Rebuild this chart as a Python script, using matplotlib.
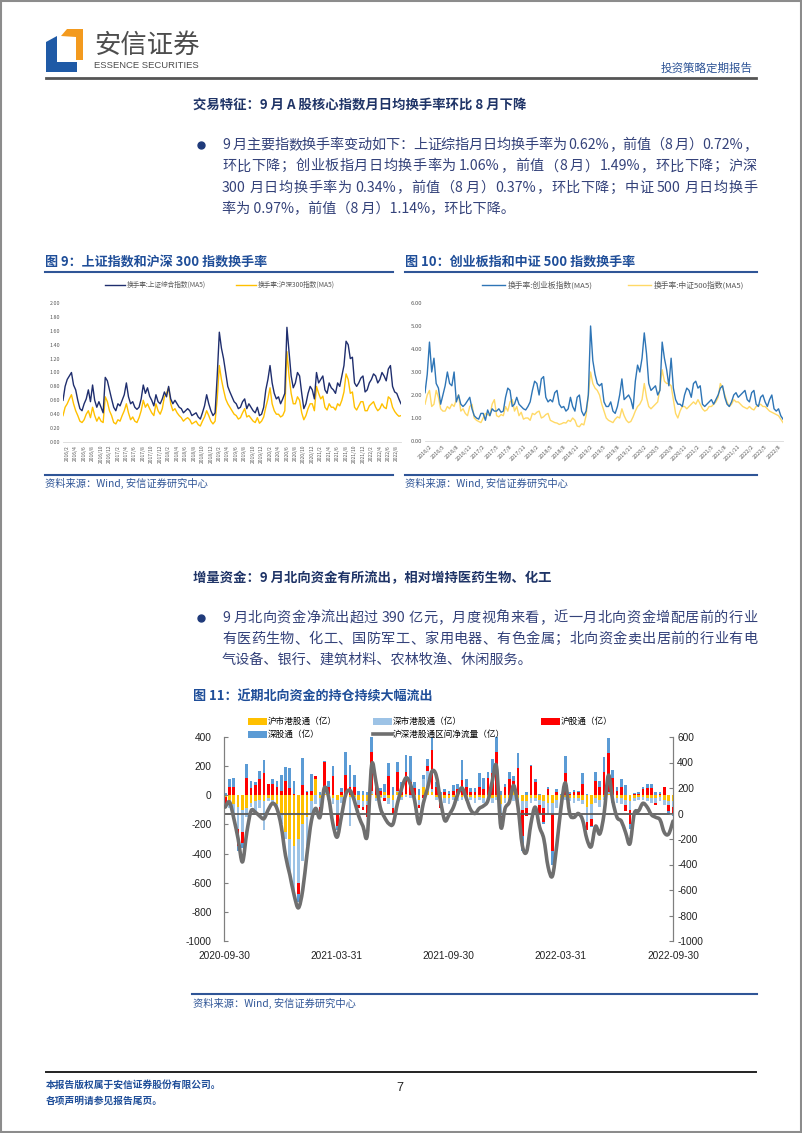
import matplotlib
matplotlib.use('Agg')
import matplotlib.pyplot as plt
import numpy as np
import pandas as pd
from matplotlib.patches import Rectangle, Polygon, PathPatch
from matplotlib.path import Path
from matplotlib.lines import Line2D

plt.rcParams['font.family'] = ['Noto Sans CJK SC', 'DejaVu Sans']
plt.rcParams['axes.unicode_minus'] = False

# ---------------- data ----------------
# half-monthly turnover readings (%), 2016/1 .. 2022/9
sh_comp = [0.60, 0.80, 0.90, 0.95, 1.00, 0.82, 0.75, 0.60, 0.48, 0.45,
           0.55, 0.62, 0.75, 0.58, 0.82, 0.60, 0.50, 0.58, 0.50, 0.42,
           0.93, 0.88, 0.75, 0.62, 0.50, 0.45, 0.55, 0.52, 0.60, 0.68,
           0.85, 0.65, 0.55, 0.58, 0.50, 0.47, 0.50, 0.62, 0.82, 0.70,
           0.78, 0.66, 0.60, 0.52, 0.68, 0.58, 0.55, 0.62, 0.72, 0.65,
           0.80, 0.62, 0.55, 0.60, 0.55, 0.50, 0.48, 0.42, 0.45, 0.48,
           0.45, 0.38, 0.40, 0.42, 0.36, 0.33, 0.42, 0.52, 0.68, 0.55,
           0.45, 0.38, 0.42, 0.95, 1.58, 1.35, 1.20, 1.00, 0.80, 0.72,
           0.65, 0.58, 0.55, 0.48, 0.50, 0.58, 0.62, 0.48, 0.55, 0.50,
           0.45, 0.42, 0.50, 0.38, 0.40, 0.50, 0.75, 0.90, 1.10, 0.85,
           0.70, 0.62, 0.65, 0.55, 0.62, 0.70, 1.65, 1.30, 0.95, 0.78,
           0.85, 1.00, 0.95, 0.70, 0.48, 0.55, 0.70, 0.80, 0.75, 0.62,
           1.00, 0.85, 0.90, 0.95, 0.75, 0.70, 0.85, 0.78, 0.75, 0.70,
           0.85, 0.80, 0.95, 1.10, 1.45, 1.40, 1.20, 1.22, 0.85, 0.80,
           0.85, 0.92, 0.95, 0.72, 0.75, 0.85, 0.90, 0.98, 0.95, 0.85,
           0.90, 1.00, 0.95, 0.88, 1.05, 1.10, 0.80, 0.72, 0.70, 0.62,
           0.55]
hs300 = [0.38, 0.50, 0.55, 0.62, 0.68, 0.55, 0.45, 0.38, 0.30, 0.28,
         0.32, 0.40, 0.45, 0.35, 0.50, 0.38, 0.30, 0.36, 0.30, 0.28,
         0.65, 0.58, 0.45, 0.38, 0.28, 0.26, 0.32, 0.30, 0.38, 0.45,
         0.55, 0.42, 0.32, 0.36, 0.30, 0.28, 0.35, 0.45, 0.60, 0.50,
         0.55, 0.48, 0.42, 0.38, 0.55, 0.45, 0.40, 0.48, 0.65, 0.70,
         0.78, 0.55, 0.45, 0.48, 0.42, 0.38, 0.35, 0.30, 0.33, 0.35,
         0.32, 0.26, 0.28, 0.30, 0.25, 0.23, 0.30, 0.36, 0.45, 0.38,
         0.30, 0.26, 0.30, 0.62, 1.10, 0.90, 0.75, 0.62, 0.55, 0.50,
         0.45, 0.40, 0.38, 0.33, 0.35, 0.42, 0.48, 0.36, 0.38, 0.34,
         0.30, 0.28, 0.35, 0.27, 0.30, 0.36, 0.50, 0.62, 0.78, 0.55,
         0.45, 0.40, 0.40, 0.36, 0.38, 0.45, 1.30, 0.95, 0.70, 0.55,
         0.55, 0.65, 0.60, 0.42, 0.32, 0.38, 0.48, 0.55, 0.55, 0.45,
         0.80, 0.70, 0.62, 0.66, 0.50, 0.46, 0.55, 0.50, 0.50, 0.46,
         0.55, 0.52, 0.60, 0.72, 0.98, 0.90, 0.70, 0.72, 0.50, 0.46,
         0.52, 0.58, 0.58, 0.45, 0.45, 0.52, 0.55, 0.58, 0.50, 0.45,
         0.48, 0.55, 0.50, 0.48, 0.65, 0.62, 0.50, 0.44, 0.40, 0.37,
         0.38]
chinext = [2.10, 2.90, 4.30, 3.00, 3.60, 2.50, 2.30, 1.60, 2.00, 2.40,
           3.00, 2.50, 2.40, 3.00, 1.70, 2.00, 1.60, 1.50, 1.60, 1.75,
           1.90, 1.40, 1.10, 1.00, 0.95, 1.20, 1.20, 0.90, 1.35, 1.10,
           1.40, 1.30, 1.30, 1.40, 1.25, 1.30, 1.90, 2.30, 2.20, 1.50,
           1.60, 1.90, 1.60, 1.50, 1.40, 1.35, 1.50, 1.70, 2.20, 2.60,
           2.50, 2.00, 2.70, 2.80, 1.90, 1.70, 1.80, 1.70, 2.10, 2.20,
           1.60, 1.45, 1.50, 1.30, 1.40, 1.90, 1.50, 1.30, 1.90, 2.00,
           1.30, 1.10, 1.30, 2.00, 5.00, 3.50, 2.90, 2.50, 2.40, 2.50,
           1.70, 1.50, 1.50, 1.70, 1.30, 1.20, 1.50, 2.00, 2.70, 1.80,
           1.90, 2.00, 1.80, 1.40, 2.60, 3.30, 3.00, 3.60, 4.70, 3.80,
           2.50, 2.20, 2.30, 2.40, 2.00, 2.20, 4.30, 3.60, 3.10, 2.40,
           3.60, 2.30, 1.80, 1.60, 1.60, 1.50, 2.00, 2.30, 2.20, 1.90,
           2.50, 2.60, 2.30, 2.40, 1.60, 1.50, 1.60, 1.70, 1.80, 1.60,
           1.80, 2.00, 2.30, 2.40, 1.90, 1.60, 1.50, 1.70, 2.00, 2.10,
           1.90, 2.00, 2.10, 2.20, 1.80, 1.70, 2.10, 2.20, 1.60, 1.50,
           1.90, 2.00, 1.70, 1.50, 1.80, 2.00, 1.40, 1.30, 1.40, 1.10,
           0.95]
csi500 = [1.60, 2.00, 2.20, 1.50, 1.60, 2.20, 1.90, 1.40, 1.30, 1.30,
          1.50, 1.40, 1.60, 1.50, 1.80, 2.00, 1.30, 1.40, 1.20, 1.10,
          1.50, 1.60, 1.00, 0.90, 0.85, 0.80, 1.00, 1.20, 1.15, 1.10,
          1.60, 1.80, 1.10, 1.05, 1.15, 1.10, 1.50, 1.30, 1.70, 1.80,
          1.30, 1.50, 1.10, 1.25, 0.95, 1.00, 1.00, 0.90, 1.20, 1.15,
          1.25, 1.30, 1.00, 1.05, 1.15, 1.20, 0.90, 0.85, 0.80, 0.78,
          0.72, 0.75, 0.80, 0.78, 0.90, 0.85, 1.00, 0.90, 0.65, 0.62,
          0.75, 0.70, 1.10, 2.00, 3.00, 2.50, 2.30, 2.20, 2.00, 1.60,
          1.30, 1.00, 0.90, 0.85, 0.80, 0.95, 1.05, 1.00, 1.40, 1.10,
          0.90, 0.80, 0.85, 1.05, 1.30, 1.50, 1.60, 1.80, 2.50, 1.90,
          1.50, 1.40, 1.50, 1.60, 1.70, 2.30, 3.10, 2.60, 2.50, 2.50,
          2.40, 1.80, 1.20, 1.00, 1.30, 1.50, 1.50, 1.40, 1.50, 1.60,
          1.70, 1.60, 1.80, 1.60, 1.40, 1.30, 1.35, 1.50, 1.50, 1.60,
          1.70, 1.90, 2.50, 2.30, 2.00, 1.70, 1.50, 1.60, 1.80, 1.70,
          1.70, 1.60, 1.50, 1.45, 1.40, 1.50, 1.40, 1.35, 1.50, 1.55,
          1.60, 1.50, 1.50, 1.40, 1.30, 1.25, 1.20, 1.15, 1.10, 0.95,
          0.80]
months = pd.period_range('2016-01', '2022-09', freq='M')
labels9 = [f'{p.year}/{p.month}' for p in months][1::2]
labels10 = [f'{p.year}/{p.month}' for p in months][1::3]

# weekly north/south flows (亿), 2020-10 .. 2022-09
hk_sh = [-10, -30, -60, -80, -100, -90, -50, -40, -30, -40,
         -20, -30, -60, -120, -250, -300, -350, -300, -200, -150,
         -40, 110, -20, 10, 10, -20, -30, -10, 10, -10,
         -10, -30, -40, -40, 10, -20, -10, 20, -20, -30,
         20, -10, 10, 0, -10, -30, 60, 30, 20, -10,
         -20, -20, -20, -10, -10, -10, -20, -10, -20, -10,
         -20, -10, -20, -10, -60, -20, -20, 60, -20, -40,
         -40, -20, -20, -30, -40, -50, -50, -30, -20, -10,
         -20, -20, -20, -30, -80, -60, -20, -30, -10, 10,
         -20, -20, -20, -30, -40, -20, -10, -10, -20, -20,
         -20, -10, -30, -40, -40]
hk_sz = [0, -60, -100, -150, -150, -60, -30, -90, -60, -200,
         -20, -40, -20, -80, -50, -250, -350, -300, -250, -200,
         -80, -60, -60, 20, -30, -40, -100, -40, 0, -200,
         -30, -40, -40, -30, 20, -20, -10, -20, -40, -60,
         10, -20, -10, -20, -30, -40, 50, 140, 20, -20,
         -30, -30, -40, -20, -30, -20, -20, -20, -30, -20,
         -30, -20, -30, -20, -80, -30, -30, -40, -40, -60,
         -50, -30, -20, -40, -50, -80, -80, -60, -40, -20,
         -20, -30, -20, -30, -100, -100, -30, -50, -20, 10,
         -30, -30, -40, -40, -60, -20, -20, -20, -20, -30,
         -30, -30, -40, -30, -40]
sh_conn = [-80, 55, 55, -120, -80, 120, 50, 70, 110, 155,
           75, 80, 60, 30, 100, 50, 10, -80, 70, 20,
           30, 20, -40, 200, 50, 130, -80, 20, 130, 60,
           60, -20, -20, -80, 270, 60, 30, -20, 130, -40,
           130, 20, 150, 90, 50, -20, -20, 30, 270, 60,
           -40, 20, 10, 30, 40, 105, 60, 20, 20, 60,
           40, 120, 150, 300, -40, 60, 110, 40, 190, -180,
           -50, 200, 90, -60, -90, 40, -250, 20, -60, 150,
           10, 20, 20, 80, -60, -50, 100, 60, 160, 270,
           120, 30, 60, -40, -100, 10, 10, 40, 50, 50,
           -20, 10, 60, -40, -40]
sz_conn = [15, 60, 65, -30, -30, 95, 45, 20, 60, 90,
           5, 30, 40, 110, 95, 140, 90, -50, 185, 10,
           115, 0, 20, 5, 40, 70, -30, 30, 160, 150,
           80, 30, 30, 20, 100, 30, 20, 60, 95, 60,
           70, 70, 115, 180, 40, 40, 30, 50, 130, 30,
           20, 20, 20, 40, 35, 140, 55, 30, 30, 90,
           80, 40, 100, 100, 30, 20, 50, 35, 100, -100,
           20, 10, 25, 10, -20, 15, -100, 20, 10, 120,
           10, 15, 10, 70, 10, -10, 60, 35, 105, 100,
           55, 25, 50, 70, -30, 5, 10, 20, 30, 30,
           20, 10, 0, -10, -20]
net_flow = [50, 90, -40, -200, -380, -150, 20, 10, -20, -40,
            30, 80, 40, -100, -330, -480, -640, -740, -600, -315,
            -60, 40, -30, 200, 130, -80, -185, -20, 150, 180,
            100, -20, -100, -170, 380, 250, 50, -30, -80, -80,
            80, 200, 280, 230, 100, -80, 80, 200, 330, 300,
            100, -55, -10, 50, 150, 200, 120, 30, 0, 40,
            60, 100, 250, 370, -105, 40, 90, 220, 50, -250,
            -300, -80, 50, -105, -200, -420, -490, -250, 50, 240,
            0, -30, 0, -50, -200, -260, -100, -160, 0, 300,
            100, -30, -60, -150, -237, 0, 20, 80, 50, -10,
            -30, -50, -150, -160, -60]
weeks = pd.date_range('2020-10-02', periods=len(net_flow), freq='W-FRI')
tick_dates11 = ['2020-09-30', '2021-03-31', '2021-09-30', '2022-03-31', '2022-09-30']

# ---------------- page ----------------
W, H = 802, 1133
fig = plt.figure(figsize=(W / 100, H / 100), dpi=100)


def fx(x):
    return x / W


def fy(y):
    return 1 - y / H


def axes_px(x0, y0, x1, y1):
    return fig.add_axes([fx(x0), fy(y1), (x1 - x0) / W, (y1 - y0) / H])


bg = fig.add_axes([0, 0, 1, 1])
bg.set_xlim(0, W)
bg.set_ylim(H, 0)
bg.axis('off')

NAVY = '#1F3467'
BODY = '#34427A'
TBLUE = '#1F4E99'
LBLUE = '#2F5597'

# page frame
bg.add_patch(Rectangle((1, 1), W - 2.5, H - 2.5, fill=False, ec='#8C8C8C', lw=1.5))

# logo
bg.add_patch(Polygon([(46, 42), (57, 36), (57, 62), (77, 62), (77, 72), (46, 72)], closed=True, color='#1F5AA6', lw=0))
bg.add_patch(Polygon([(61, 36), (67, 29), (83, 29), (83, 60), (76, 60), (76, 37)], closed=True, color='#F39A1E', lw=0))
bg.text(94, 45, '安信证券', fontsize=19, color='#4D4D4D', va='center', ha='left')
bg.text(94, 66, 'ESSENCE SECURITIES', fontsize=6.8, color='#4D4D4D', va='center', ha='left',
        family=['Liberation Sans Narrow', 'Liberation Sans'])
bg.text(753, 68, '投资策略定期报告', fontsize=8.3, color=LBLUE, va='center', ha='right')
bg.plot([46, 756], [77.5, 77.5], color='#555555', lw=2)

# footer
bg.plot([46, 756], [1072, 1072], color='#222222', lw=1.4)
bg.text(46, 1085, '本报告版权属于安信证券股份有限公司。', fontsize=7, color=TBLUE, weight='bold', va='center')
bg.text(46, 1101, '各项声明请参见报告尾页。', fontsize=7, color=TBLUE, weight='bold', va='center')
bg.text(400, 1088, '7', fontsize=9, color='#222222', va='center', ha='center', family=['Liberation Sans'])

renderer = fig.canvas.get_renderer()


def justified(x0, x1, y, s, **kw):
    # split into CJK chars and ascii words, spread the rest of the width evenly
    tokens, spaces = [], []
    buf, sp = '', False
    for ch in s:
        if ch == ' ':
            if buf:
                tokens.append(buf); spaces.append(sp); buf = ''
            sp = True
            continue
        if ord(ch) < 128:
            if buf and ord(buf[-1]) >= 128:
                tokens.append(buf); spaces.append(sp); buf = ''; sp = False
            buf += ch
        else:
            if buf:
                tokens.append(buf); spaces.append(sp); buf = ''; sp = False
            tokens.append(ch); spaces.append(sp); sp = False
    if buf:
        tokens.append(buf); spaces.append(sp)
    widths = []
    for t in tokens:
        tt = bg.text(0, 0, t, **kw)
        widths.append(tt.get_window_extent(renderer).width)
        tt.remove()
    sw = kw.get('fontsize', 10) * 0.28
    extra = sum(sw for s_ in spaces if s_)
    gap = (x1 - x0 - sum(widths) - extra) / max(len(tokens) - 1, 1)
    x = x0
    for t, w, s_ in zip(tokens, widths, spaces):
        if s_:
            x += sw
        bg.text(x, y, t, va='center', ha='left', **kw)
        x += w + gap


body_kw = dict(fontsize=10.2, color=BODY)

bg.text(193, 105, '交易特征：9 月 A 股核心指数月日均换手率环比 8 月下降', fontsize=9.6, weight='bold', color=NAVY, va='center')
bg.plot([201], [145], 'o', color='#1F3A7A', ms=5)
para1 = ['9 月主要指数换手率变动如下：上证综指月日均换手率为 0.62%，前值（8 月）0.72%，',
         '环比下降；创业板指月日均换手率为 1.06%，前值（8 月）1.49%，环比下降；沪深',
         '300 月日均换手率为 0.34%，前值（8 月）0.37%，环比下降；中证 500 月日均换手']
for i, line in enumerate(para1):
    justified(222, 757, 145 + i * 21.3, line, **body_kw)
bg.text(222, 145 + 3 * 21.3, '率为 0.97%，前值（8 月）1.14%，环比下降。', va='center', **body_kw)

bg.text(193, 578, '增量资金：9 月北向资金有所流出，相对增持医药生物、化工', fontsize=9.6, weight='bold', color=NAVY, va='center')
bg.plot([201], [618], 'o', color='#1F3A7A', ms=5)
para2 = ['9 月北向资金净流出超过 390 亿元，月度视角来看，近一月北向资金增配居前的行业',
         '有医药生物、化工、国防军工、家用电器、有色金属；北向资金卖出居前的行业有电']
for i, line in enumerate(para2):
    justified(222, 757, 618 + i * 21, line, **body_kw)
bg.text(222, 660, '气设备、银行、建筑材料、农林牧渔、休闲服务。', va='center', **body_kw)

# figure titles / source lines
bg.text(45, 262, '图 9：上证指数和沪深 300 指数换手率', fontsize=9.4, weight='bold', color=TBLUE, va='center')
bg.text(405, 262, '图 10：创业板指和中证 500 指数换手率', fontsize=9.4, weight='bold', color=TBLUE, va='center')
bg.text(193, 697, '图 11：近期北向资金的持仓持续大幅流出', fontsize=9.4, weight='bold', color=TBLUE, va='center')
bg.plot([45, 393], [271.5, 271.5], color=LBLUE, lw=1.5)
bg.plot([405, 757], [271.5, 271.5], color=LBLUE, lw=1.5)
bg.plot([45, 393], [475, 475], color=LBLUE, lw=1.5)
bg.plot([405, 757], [475, 475], color=LBLUE, lw=1.5)
bg.plot([192, 757], [994, 994], color=LBLUE, lw=1.5)
src = '资料来源：Wind, 安信证券研究中心'
for sx, sy in [(45, 483), (405, 483), (193, 1003)]:
    bg.text(sx, sy, src, fontsize=7.4, color=LBLUE, va='center', style='italic')


# ---------------- figure 9 / 10 ----------------
def style_small(ax, ymax, step, xt, xl, rot, lsize):
    ax.set_xlim(0, len(months) - 1)
    ax.set_ylim(0, ymax)
    ax.set_yticks(np.arange(0, ymax + 1e-9, step))
    ax.set_yticklabels([f'{v:.2f}' for v in np.arange(0, ymax + 1e-9, step)])
    ax.set_xticks(xt)
    if rot == 90:
        ax.set_xticklabels(xl, rotation=90, ha='center', va='top')
    else:
        ax.set_xticklabels(xl, rotation=45, ha='right', va='top', rotation_mode='anchor')
    ax.tick_params(axis='both', length=0, colors='#595959', labelsize=lsize, pad=2)
    ax.tick_params(axis='y', labelsize=lsize + 0.3)
    for k in ['top', 'right', 'left']:
        ax.spines[k].set_visible(False)
    ax.spines['bottom'].set_color('#D9D9D9')
    ax.spines['bottom'].set_linewidth(0.6)
    ax.patch.set_alpha(0)


x_h = np.arange(len(sh_comp)) / 2      # half-month steps, in months from 2016/1
x_m = np.arange(len(months))
ax9 = axes_px(63, 303, 401, 442)
ax9.plot(x_h, hs300, color='#FFC000', lw=1.0)
ax9.plot(x_h, sh_comp, color='#1F2E6E', lw=1.0)
style_small(ax9, 2.0, 0.2, x_m[1::2], labels9, 90, 3.6)
h9 = [Line2D([], [], color='#1F2E6E', lw=1), Line2D([], [], color='#FFC000', lw=1)]
fig.legend(h9, ['换手率:上证综合指数(MA5)', '换手率:沪深300指数(MA5)'], loc='center',
           bbox_to_anchor=(fx(220), fy(285)), ncol=2, frameon=False, fontsize=4.8,
           handlelength=3.0, columnspacing=4.5, handletextpad=0.3, labelcolor='#595959')

ax10 = axes_px(425, 303, 783, 441)
ax10.plot(x_h, csi500, color='#FFD966', lw=1.0)
ax10.plot(x_h, chinext, color='#2E75B6', lw=1.0)
style_small(ax10, 6.0, 1.0, x_m[1::3], labels10, 45, 4.0)
h10 = [Line2D([], [], color='#2E75B6', lw=1), Line2D([], [], color='#FFD966', lw=1)]
fig.legend(h10, ['换手率:创业板指数(MA5)', '换手率:中证500指数(MA5)'], loc='center',
           bbox_to_anchor=(fx(613), fy(285)), ncol=2, frameon=False, fontsize=5.6,
           handlelength=3.0, columnspacing=4.5, handletextpad=0.3, labelcolor='#595959')

# ---------------- figure 11 ----------------
ax = axes_px(224, 737, 673, 941)
ax2 = ax.twinx()
series = [hk_sh, hk_sz, sh_conn, sz_conn]
colors = ['#FFC000', '#9DC3E6', '#FF0000', '#5B9BD5']
names = ['沪市港股通（亿）', '深市港股通（亿）', '沪股通（亿）', '深股通（亿）']
pos_base = np.zeros(len(weeks))
neg_base = np.zeros(len(weeks))
bars = []
for vals, c in zip(series, colors):
    v = np.array(vals, dtype=float)
    bottom = np.where(v >= 0, pos_base, neg_base)
    bars.append(ax.bar(weeks, v, bottom=bottom, width=4.4, color=c, lw=0))
    pos_base += np.clip(v, 0, None)
    neg_base += np.clip(v, None, 0)

d0, d1 = pd.Timestamp(tick_dates11[0]), pd.Timestamp(tick_dates11[-1])
ax.set_xlim(d0, d1)
ax.set_ylim(-1000, 400)
ax.set_yticks(np.arange(-1000, 401, 200))
ax2.set_ylim(-1000, 600)
ax2.set_yticks(np.arange(-1000, 601, 200))
ax2.axhline(0, color='#595959', lw=1.3, zorder=1)


def smooth_path(xs, ys):
    verts = [(xs[0], ys[0])]
    codes = [Path.MOVETO]
    n = len(xs)
    for i in range(n - 1):
        xa, ya = (xs[i - 1], ys[i - 1]) if i > 0 else (xs[i], ys[i])
        xb, yb = (xs[i + 2], ys[i + 2]) if i + 2 < n else (xs[i + 1], ys[i + 1])
        c1 = (xs[i] + (xs[i + 1] - xa) / 6, ys[i] + (ys[i + 1] - ya) / 6)
        c2 = (xs[i + 1] - (xb - xs[i]) / 6, ys[i + 1] - (yb - ys[i]) / 6)
        verts += [c1, c2, (xs[i + 1], ys[i + 1])]
        codes += [Path.CURVE4] * 3
    return Path(verts, codes)


xnum = matplotlib.dates.date2num(weeks)
ax2.add_patch(PathPatch(smooth_path(xnum, net_flow), fill=False, ec='#6F6F6F', lw=2.6,
                        capstyle='round', joinstyle='round', zorder=3))

ax.set_xticks([pd.Timestamp(t) for t in tick_dates11])
ax.set_xticklabels(tick_dates11)
for a in (ax, ax2):
    for k in ['top', 'bottom']:
        a.spines[k].set_visible(False)
    a.spines['left'].set_color('#7F7F7F')
    a.spines['right'].set_color('#7F7F7F')
    a.tick_params(axis='y', length=3, direction='in', color='#7F7F7F', labelsize=7.3,
                  labelcolor='#222222', pad=3)
    for lab in a.get_yticklabels():
        lab.set_family(['Liberation Sans'])
ax.tick_params(axis='x', length=0, labelsize=7.3, labelcolor='#222222', pad=7)
for lab in ax.get_xticklabels():
    lab.set_family(['Liberation Sans'])
ax.tick_params(axis='y', pad=9)

hline = Line2D([], [], color='#6F6F6F', lw=2.6)
handles = [bars[0], bars[3], bars[1], hline, bars[2]]
labs = [names[0], names[3], names[1], '沪深港股通区间净流量（亿）', names[2]]
fig.legend(handles, labs, loc='upper left', bbox_to_anchor=(fx(244), fy(713)), ncol=3,
           frameon=False, fontsize=6.2, handlelength=2.2, handleheight=0.9,
           columnspacing=4.2, handletextpad=0.1, labelspacing=0.45, borderpad=0)

fig.savefig('out.png', dpi=100)
